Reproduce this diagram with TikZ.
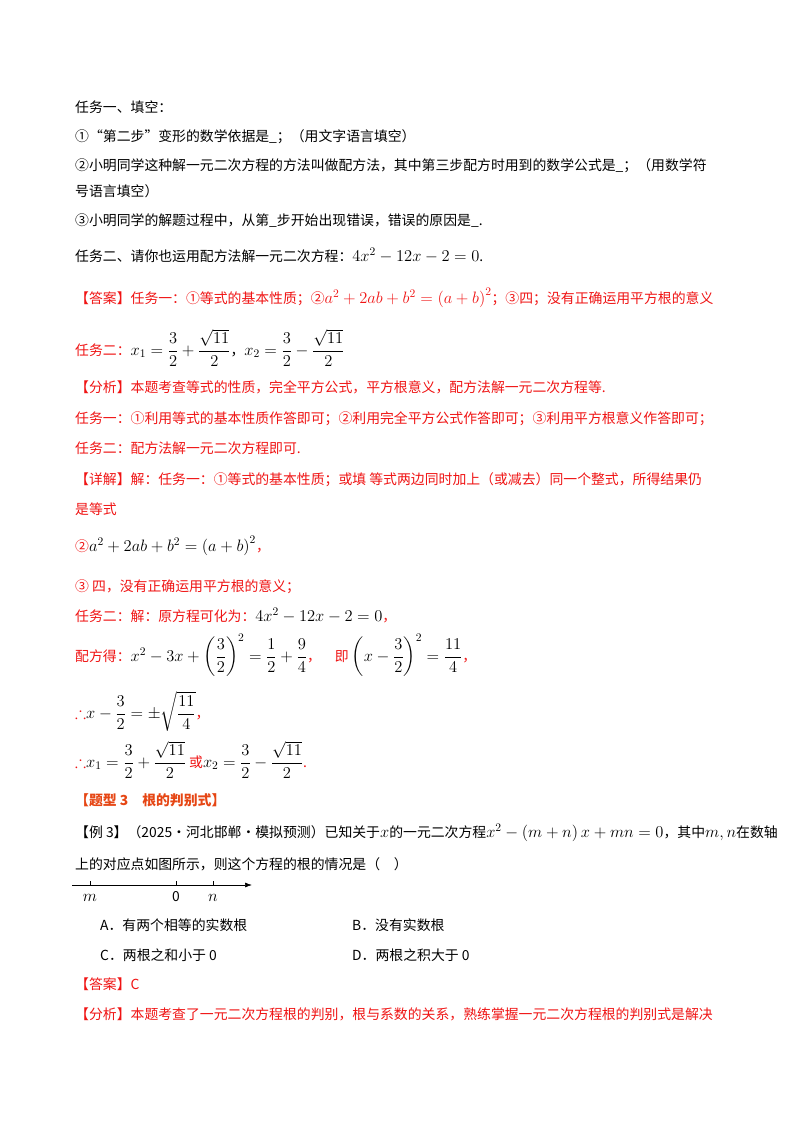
\documentclass[tikz,border=0pt]{standalone}
\usepackage{fix-cm}
\usepackage{fontspec}
\usepackage{amsmath,amssymb}
\usetikzlibrary{arrows.meta}
\setmainfont{Liberation Serif}
\newfontfamily\cjk[Scale=0.84]{Noto Sans CJK SC}
\definecolor{ans}{RGB}{240,20,20}
\definecolor{tit}{RGB}{230,70,20}
\begin{document}
\begin{tikzpicture}[x=1pt,y=-1pt,
  t/.style={anchor=base west,inner sep=0pt,font=\cjk\fontsize{16.5}{19}\selectfont},
  r/.style={t,text=ans}]
\useasboundingbox[fill=white] (0,0) rectangle (800,1132);
\node[t] (l1) at (75,112) {任务一、填空：};
\node[t] (l2) at (75,141) {①“第二步”变形的数学依据是\_；（用文字语言填空）};
\node[t] (l3) at (75,170) {②小明同学这种解一元二次方程的方法叫做配方法，其中第三步配方时用到的数学公式是\_；（用数学符};
\node[t] (l4) at (75,196) {号语言填空）};
\node[t] (l5) at (75,225) {③小明同学的解题过程中，从第\_步开始出现错误，错误的原因是\_.};
\node[t] (l6) at (75,261) {任务二、请你也运用配方法解一元二次方程：$4x^2-12x-2=0$.};
\node[r] (l7) at (75,303) {【答案】任务一：①等式的基本性质；②$a^2+2ab+b^2=\left(a+b\right)^2$；③四；没有正确运用平方根的意义};
\node[r] (l8) at (75,355) {任务二：\textcolor{black}{$x_1=\dfrac32+\dfrac{\sqrt{11}}{2}$，$x_2=\dfrac32-\dfrac{\sqrt{11}}{2}$}};
\node[r] (l9) at (75,392) {【分析】本题考查等式的性质，完全平方公式，平方根意义，配方法解一元二次方程等.};
\node[r] (l10) at (75,423) {任务一：①利用等式的基本性质作答即可；②利用完全平方公式作答即可；③利用平方根意义作答即可；};
\node[r] (l11) at (75,453) {任务二：配方法解一元二次方程即可.};
\node[r] (l12) at (75,484) {【详解】解：任务一：①等式的基本性质；或填 等式两边同时加上（或减去）同一个整式，所得结果仍};
\node[r] (l13) at (75,514) {是等式};
\node[r] (l14) at (75,551) {②\textcolor{black}{$a^2+2ab+b^2=\left(a+b\right)^2$}，};
\node[r] (l15) at (75,591) {③ 四，没有正确运用平方根的意义；};
\node[r] (l16) at (75,621) {任务二：解：原方程可化为：\textcolor{black}{$4x^2-12x-2=0$}，};
\node[r] (l17) at (75,661) {配方得：\textcolor{black}{$x^2-3x+\left(\dfrac32\right)^2=\dfrac12+\dfrac94$}，\quad 即 \textcolor{black}{$\left(x-\dfrac32\right)^2=\dfrac{11}{4}$}，};
\node[r] (l18) at (75,718) {$\therefore$\textcolor{black}{$x-\dfrac32=\pm\sqrt{\dfrac{11}{4}}$}，};
\node[r] (l19) at (75,767) {$\therefore$\textcolor{black}{$x_1=\dfrac32+\dfrac{\sqrt{11}}{2}$} 或\textcolor{black}{$x_2=\dfrac32-\dfrac{\sqrt{11}}{2}$}.};
\node[t,text=tit,font=\cjk\bfseries\fontsize{16.5}{19}\selectfont] (l20) at (75,805) {【题型 3\quad 根的判别式】};
\node[t] (l21) at (75,837) {【例 3】（2025·河北邯郸·模拟预测）已知关于$x$的一元二次方程$x^2-\left(m+n\right)x+mn=0$，其中$m,n$在数轴};
\node[t] (l22) at (75,869) {上的对应点如图所示，则这个方程的根的情况是（\quad ）};
% number line
\coordinate (ns) at (72,885);
\coordinate (ne) at (252,885);
\draw[line width=0.7pt,-{Latex[length=7pt,width=5pt]}] (ns) -- (ne);
\foreach \p in {90,176,213}{
  \draw[line width=0.6pt] (\p,885) -- (\p,881);
}
\node[t,anchor=base] (nm) at (90,901) {$m$};
\node[t,anchor=base] (n0) at (176,901) {0};
\node[t,anchor=base] (nn) at (213,901) {$n$};
\node[t] (oA) at (100,930) {A．有两个相等的实数根};
\node[t] (oB) at (352,930) {B．没有实数根};
\node[t] (oC) at (100,960) {C．两根之和小于 0};
\node[t] (oD) at (352,960) {D．两根之积大于 0};
\node[r] (l23) at (75,989) {【答案】C};
\node[r] (l24) at (75,1019) {【分析】本题考查了一元二次方程根的判别，根与系数的关系，熟练掌握一元二次方程根的判别式是解决};
\end{tikzpicture}
\end{document}
